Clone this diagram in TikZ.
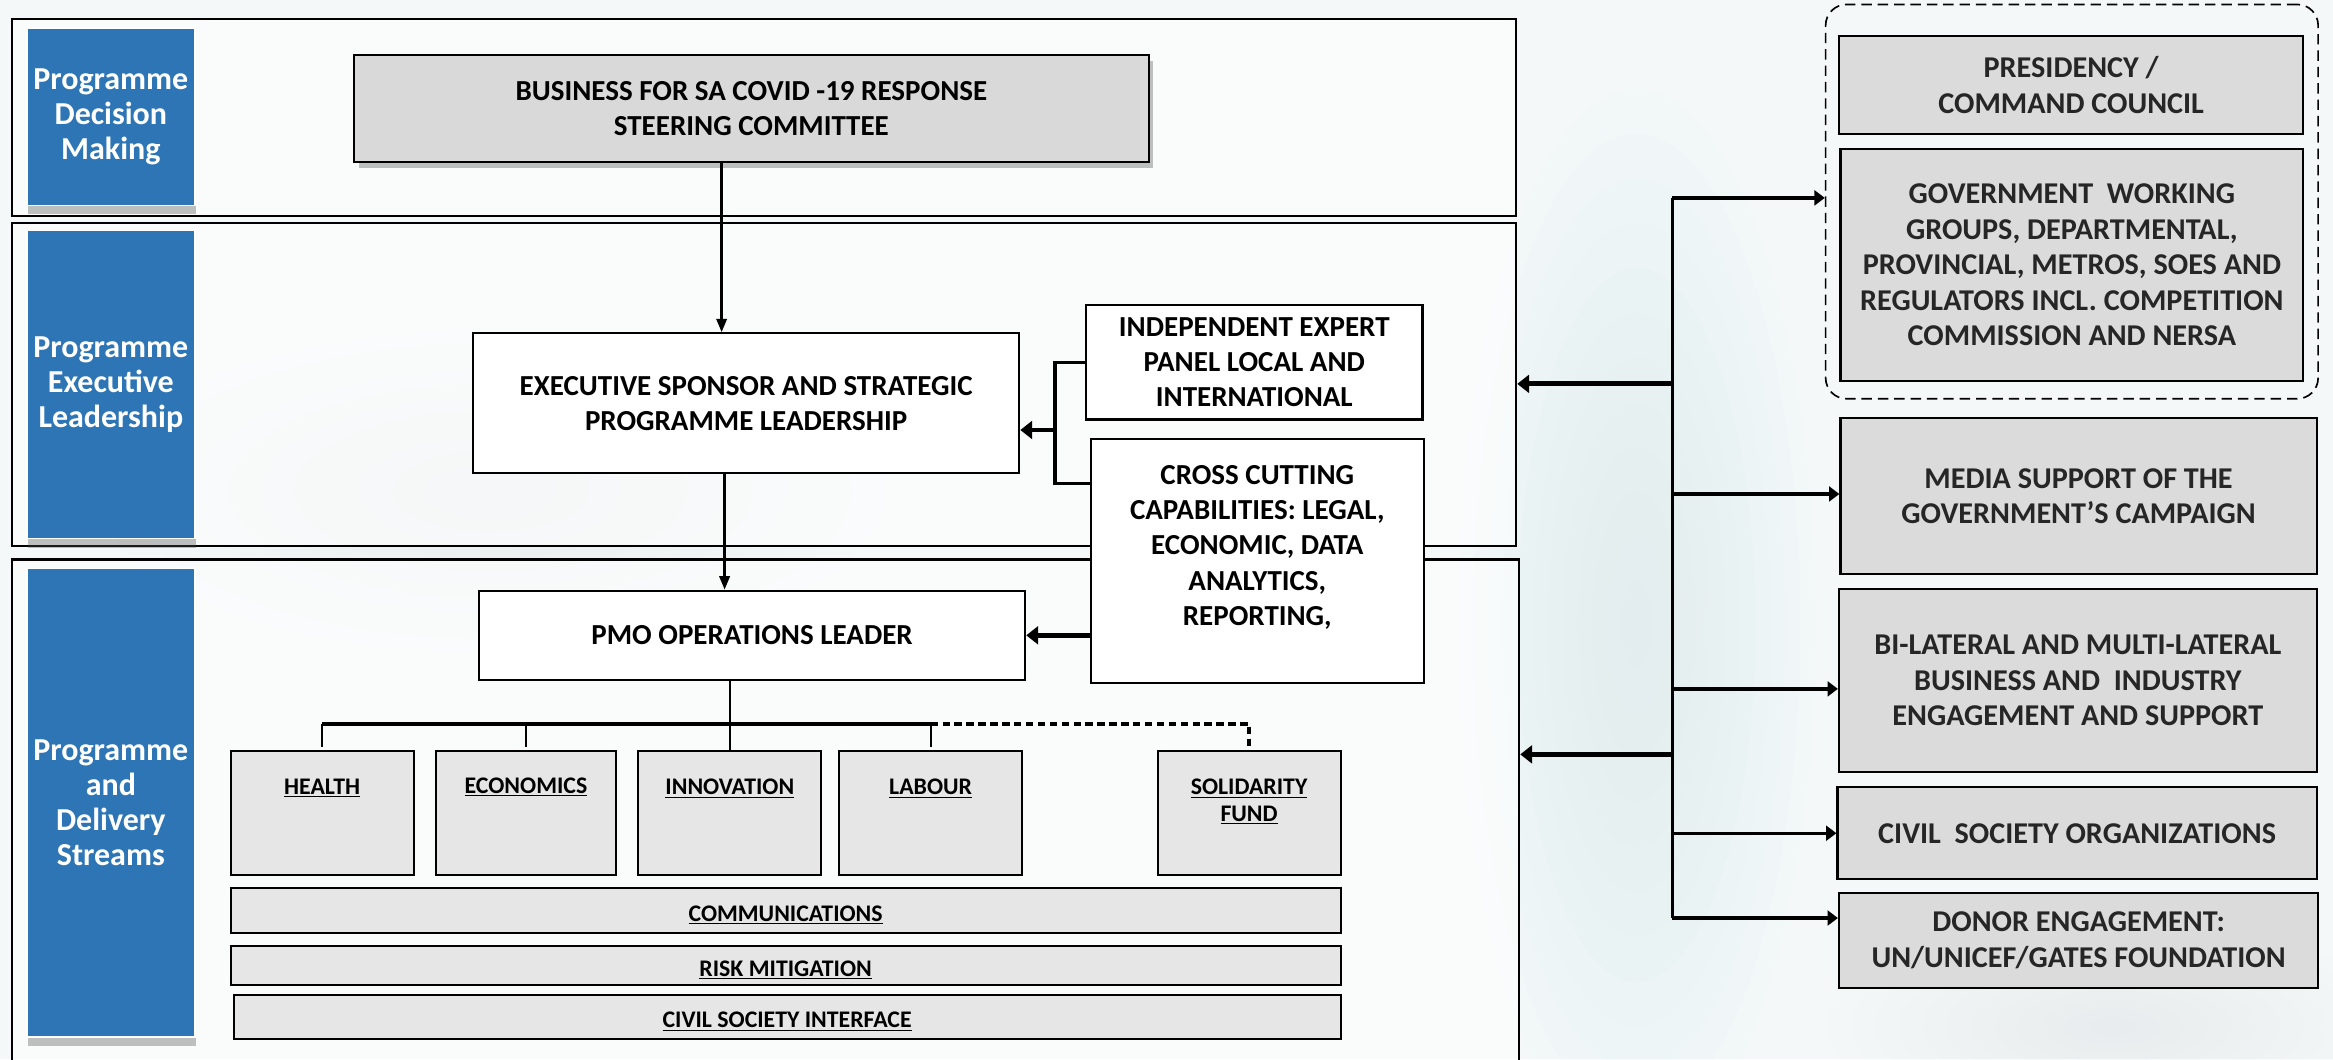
\documentclass[tikz,border=0pt]{standalone}
\usepackage{fontspec}
\setmainfont{Carlito}
\usetikzlibrary{arrows.meta,shadows,calc}

\definecolor{labelblue}{HTML}{2E75B6}
\definecolor{boxgray}{HTML}{D9D9D9}
\definecolor{streamgray}{HTML}{E6E6E6}
\definecolor{sidegray}{HTML}{DBDBDB}
\definecolor{sidetext}{HTML}{262626}
\definecolor{bgtint}{HTML}{F4F8F9}
\definecolor{haze}{HTML}{D8ECEF}

\tikzset{
  frame/.style={draw=black, line width=1.5pt, fill=white, fill opacity=0.6, text opacity=1, inner sep=0pt},
  lanelabel/.style={fill=labelblue, draw=white, line width=1pt, text=white, inner sep=0pt,
    font=\bfseries\fontsize{21.5}{23.5}\selectfont, align=center,
    drop shadow={shadow xshift=1pt, shadow yshift=-6pt, opacity=0.35, fill=black!70}},
  mainbox/.style={draw=black, line width=1.5pt, fill=white, inner sep=0pt,
    font=\bfseries\fontsize{19.5}{23.7}\selectfont, align=center},
  steerbox/.style={mainbox, fill=boxgray,
    drop shadow={shadow xshift=3pt, shadow yshift=-4pt, opacity=0.35, fill=black!70}},
  streambox/.style={draw=black, line width=1.3pt, fill=streamgray, inner sep=0pt},
  streamtext/.style={font=\bfseries\fontsize{16}{18}\selectfont, align=center, inner sep=0pt, anchor=north},
  barbox/.style={streambox, font=\bfseries\fontsize{16}{18}\selectfont, text height=14.3pt, text depth=0pt},
  sidebox/.style={draw=black, line width=1.5pt, fill=sidegray, text=sidetext, inner sep=0pt,
    font=\bfseries\fontsize{20.3}{23.8}\selectfont, align=center},
  groupbox/.style={draw=black, line width=1.1pt, dash pattern=on 7pt off 4pt, rounded corners=14pt, inner sep=0pt},
  thinarr/.style={line width=1.6pt, -{Triangle[length=9pt,width=7pt]}},
  thickarr/.style={line width=3.2pt, -{Triangle[length=8pt,width=12pt]}},
  sidearr/.style={line width=2.2pt, -{Triangle[length=7pt,width=10pt]}},
  bracket/.style={line width=2.2pt},
  busline/.style={line width=2.6pt},
  drop/.style={line width=1.5pt},
  dashbus/.style={line width=2.2pt, dash pattern=on 5pt off 3pt},
}

\begin{document}
\begin{tikzpicture}[x=1pt,y=-1pt]
\useasboundingbox (0,0) rectangle (1568,712);
\clip (0,0) rectangle (1568,712);
\fill[bgtint] (0,0) rectangle (1568,712);
% soft tinted haze in the background
\foreach \r in {1,...,12} {
  \fill[haze, opacity=0.05] (1100,420) ellipse ({10*\r} and {30*\r});
  \fill[haze, opacity=0.035] (330,330) ellipse ({22*\r} and {9*\r});
  \fill[haze, opacity=0.035] (1420,690) ellipse ({16*\r} and {6*\r});
}

% lane frames
\node[frame, minimum width=1011pt, minimum height=132pt] (sec1) at (513.5,79) {};
\node[frame, minimum width=1011pt, minimum height=217pt] (sec2) at (513.5,258.5) {};
\node[frame, minimum width=1013pt, minimum height=354pt] (sec3) at (514.5,553) {};

% lane titles
\node[lanelabel, minimum width=113pt, minimum height=119pt] (lab1) at (74.5,78.5) {Programme\\Decision\\Making};
\node[lanelabel, minimum width=113pt, minimum height=207pt] (lab2) at (74.5,258.5) {Programme\\Executive\\Leadership};
\node[lanelabel, minimum width=113pt, minimum height=315pt] (lab3) at (74.5,539.5) {Programme\\and\\Delivery\\Streams};

% governance boxes
\node[steerbox, minimum width=534pt, minimum height=72pt] (steer) at (505,73) {BUSINESS FOR SA COVID -19 RESPONSE\\STEERING COMMITTEE};
\node[mainbox, minimum width=367pt, minimum height=94pt] (exec) at (501.5,271) {EXECUTIVE SPONSOR AND STRATEGIC\\PROGRAMME LEADERSHIP};
\node[mainbox, minimum width=226pt, minimum height=77pt] (expert) at (843,243.5) {INDEPENDENT EXPERT\\PANEL LOCAL AND\\INTERNATIONAL};
\node[mainbox, minimum width=224pt, minimum height=164pt] (cross) at (845,377) {CROSS CUTTING\\CAPABILITIES: LEGAL,\\ECONOMIC, DATA\\ANALYTICS,\\REPORTING,\\[-10pt]\strut};
\node[mainbox, minimum width=367pt, minimum height=60pt] (pmo) at (505.5,427) {PMO OPERATIONS LEADER};

% delivery streams
\node[streambox, minimum width=123pt, minimum height=83pt] (health) at (216.5,546.5) {};
\node[streambox, minimum width=121pt, minimum height=83pt] (econ) at (353.5,546.5) {};
\node[streambox, minimum width=123pt, minimum height=83pt] (innov) at (490.5,546.5) {};
\node[streambox, minimum width=123pt, minimum height=83pt] (labour) at (625.5,546.5) {};
\node[streambox, minimum width=123pt, minimum height=83pt] (solid) at (839.5,546.5) {};
\node[streamtext] (healthT) at ($(health.north)+(0,19)$) {\underline{HEALTH}};
\node[streamtext] (econT) at ($(econ.north)+(0,18)$) {\underline{ECONOMICS}};
\node[streamtext] (innovT) at ($(innov.north)+(0,19)$) {\underline{INNOVATION}};
\node[streamtext] (labourT) at ($(labour.north)+(0,19)$) {\underline{LABOUR}};
\node[streamtext] (solidT) at ($(solid.north)+(0,19)$) {\underline{SOLIDARITY}\\\underline{FUND}};

\node[barbox, minimum width=746pt, minimum height=30pt] (comms) at (528,612) {\underline{COMMUNICATIONS}};
\node[barbox, minimum width=746pt, minimum height=26pt] (risk) at (528,649) {\underline{RISK MITIGATION}};
\node[barbox, minimum width=744pt, minimum height=29pt] (civil) at (529,683.5) {\underline{CIVIL SOCIETY INTERFACE}};

% stakeholder boxes
\node[groupbox, minimum width=331pt, minimum height=265pt] (grp) at (1392.5,135.5) {};
\node[sidebox, minimum width=312pt, minimum height=66pt] (pres) at (1392,57) {PRESIDENCY /\\COMMAND COUNCIL};
\node[sidebox, minimum width=311pt, minimum height=156pt] (gov) at (1392.5,178) {GOVERNMENT\ \ WORKING\\GROUPS, DEPARTMENTAL,\\PROVINCIAL, METROS, SOES AND\\REGULATORS INCL. COMPETITION\\COMMISSION AND NERSA};
\node[sidebox, minimum width=320pt, minimum height=105pt] (media) at (1397,333.5) {MEDIA SUPPORT OF THE\\GOVERNMENT’S CAMPAIGN};
\node[sidebox, minimum width=321pt, minimum height=123pt] (bilat) at (1396.5,457.5) {BI-LATERAL AND MULTI-LATERAL\\BUSINESS AND\ \ INDUSTRY\\ENGAGEMENT AND SUPPORT};
\node[sidebox, minimum width=322pt, minimum height=62pt] (cso) at (1396,560) {CIVIL\ \ SOCIETY ORGANIZATIONS};
\node[sidebox, minimum width=322pt, minimum height=64pt] (donor) at (1397,632) {DONOR ENGAGEMENT:\\UN/UNICEF/GATES FOUNDATION};

% vertical reporting line
\coordinate (sA) at ($(steer.south)+(-20,0)$);
\coordinate (sB) at ($(exec.south)+(-14.5,0)$);
\draw[thinarr] (sA) -- (sA |- exec.north);
\draw[thinarr] (sB) -- (sB |- pmo.north);

% advisory bracket into the executive
\coordinate (bk) at (709,289);
\coordinate (bkb) at (733,325);
\draw[bracket] (expert.west) -| (bk) |- (bkb);
\draw[thickarr, line width=2.2pt] (bk) -- (bk -| exec.east);
\draw[thickarr] (pmo.east -| cross.west) -- (pmo.east);

% stream bus
\coordinate (bus) at (490,486.5);
\draw[drop] (pmo.south -| innov.north) -- (innov.north);
\draw[busline] (health.north |- bus) -- (labour.north |- bus);
\draw[drop] (health.north |- bus) -- ($(health.north)+(0,-2)$);
\draw[drop] (econ.north |- bus) -- ($(econ.north)+(0,-2)$);
\draw[drop] (labour.north |- bus) -- ($(labour.north)+(0,-2)$);
\draw[dashbus] (labour.north |- bus) -| ($(solid.north)+(0,-2)$);

% stakeholder trunk
\coordinate (jG) at (1124,133);
\coordinate (jM) at (1124,332);
\coordinate (jB) at (1124,463);
\coordinate (jC) at (1124,560);
\coordinate (jD) at (1124,617);
\coordinate (jL1) at (1124,258);
\coordinate (jL2) at (1124,507);
\draw[line width=2.4pt] (jG) -- (jD);
\draw[sidearr] (jG) -- (jG -| grp.west);
\draw[sidearr] (jM) -- (jM -| media.west);
\draw[sidearr] (jB) -- (jB -| bilat.west);
\draw[sidearr] (jC) -- (jC -| cso.west);
\draw[sidearr] (jD) -- (jD -| donor.west);
\draw[thickarr] (jL1) -- (jL1 -| sec2.east);
\draw[thickarr] (jL2) -- (jL2 -| sec3.east);
\end{tikzpicture}
\end{document}
